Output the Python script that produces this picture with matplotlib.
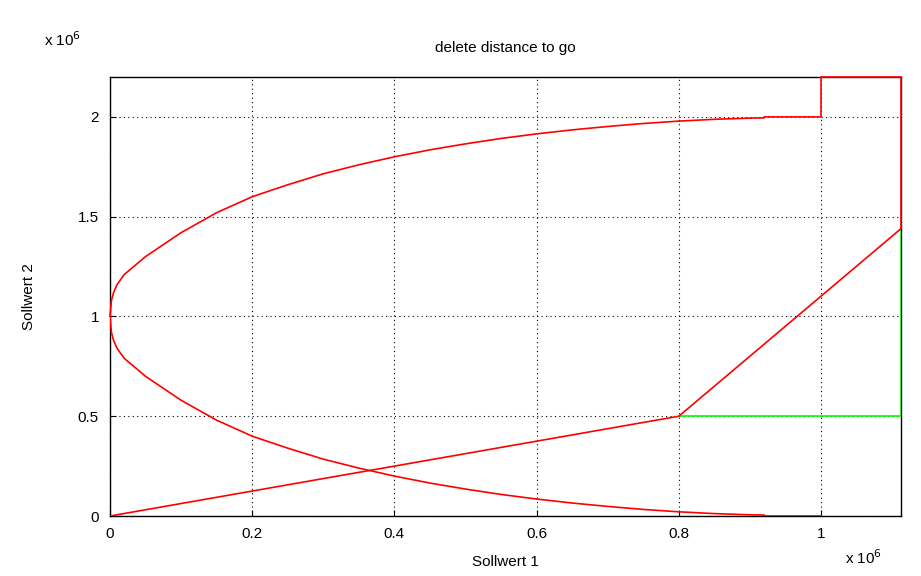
import matplotlib
matplotlib.use("Agg")
import matplotlib.pyplot as plt
plt.rcParams['font.family'] = ['Liberation Sans', 'DejaVu Sans']

lower_x = [0, 0.002, 0.005, 0.01, 0.02, 0.03, 0.05, 0.075, 0.1, 0.125, 0.15, 0.175, 0.2, 0.25, 0.3, 0.35, 0.4, 0.45, 0.5, 0.55, 0.6, 0.65, 0.7, 0.75, 0.8, 0.85, 0.9, 0.92, 0.92, 1.0]
lower_y = [1.0, 0.92, 0.88, 0.84, 0.79, 0.76, 0.70, 0.64, 0.58, 0.53, 0.48, 0.44, 0.40, 0.34, 0.285, 0.24, 0.20, 0.165, 0.135, 0.108, 0.085, 0.065, 0.048, 0.033, 0.021, 0.012, 0.006, 0.005, 0.0, 0.0]
upper_x = lower_x + [1.0, 1.0, 1.1125, 1.1125]
upper_y = [2 - v for v in lower_y] + [2.0, 2.2, 2.2, 1.44]
line_x = [0, 0.8, 1.1125]
line_y = [0, 0.5, 1.44]
green_x = [0.8, 1.1125, 1.1125]
green_y = [0.5, 0.5, 1.44]
xticks = [0, 0.2, 0.4, 0.6, 0.8, 1.0]
xticklabels = ['0', '0.2', '0.4', '0.6', '0.8', '1']
yticks = [0, 0.5, 1.0, 1.5, 2.0]
yticklabels = ['0', '0.5', '1', '1.5', '2']

fig = plt.figure(figsize=(9.21, 5.76), dpi=100)
ax = fig.add_axes([110/921, 60/576, 791/921, 439/576])
ax.plot(green_x, green_y, color='#00ff00', lw=1.2, zorder=3)
ax.plot(line_x, line_y, color='red', lw=1.2, zorder=4)
ax.plot(lower_x, lower_y, color='red', lw=1.2, zorder=4)
ax.plot(upper_x, upper_y, color='red', lw=1.2, zorder=4, clip_on=False)
ax.set_xlim(0, 1.1125)
ax.set_ylim(0, 2.2)
ax.set_xticks(xticks, xticklabels)
ax.set_yticks(yticks, yticklabels)
ax.grid(True, color='black', linestyle=(0, (1, 3)), lw=0.8)
ax.tick_params(direction='in', labelsize=11, pad=8, length=4)
for s in ax.spines.values():
    s.set_linewidth(1.0)
ax.set_title('delete distance to go', fontsize=11, pad=18)
ax.set_xlabel('Sollwert 1', fontsize=11, labelpad=10)
ax.set_ylabel('Sollwert 2', fontsize=11, labelpad=30)
fig.text(44/921, 1 - 46/576, r'x 10$^{6}$', fontsize=11)
fig.text(845/921, 1 - 564/576, r'x 10$^{6}$', fontsize=11)
fig.savefig('out.png', dpi=100)
